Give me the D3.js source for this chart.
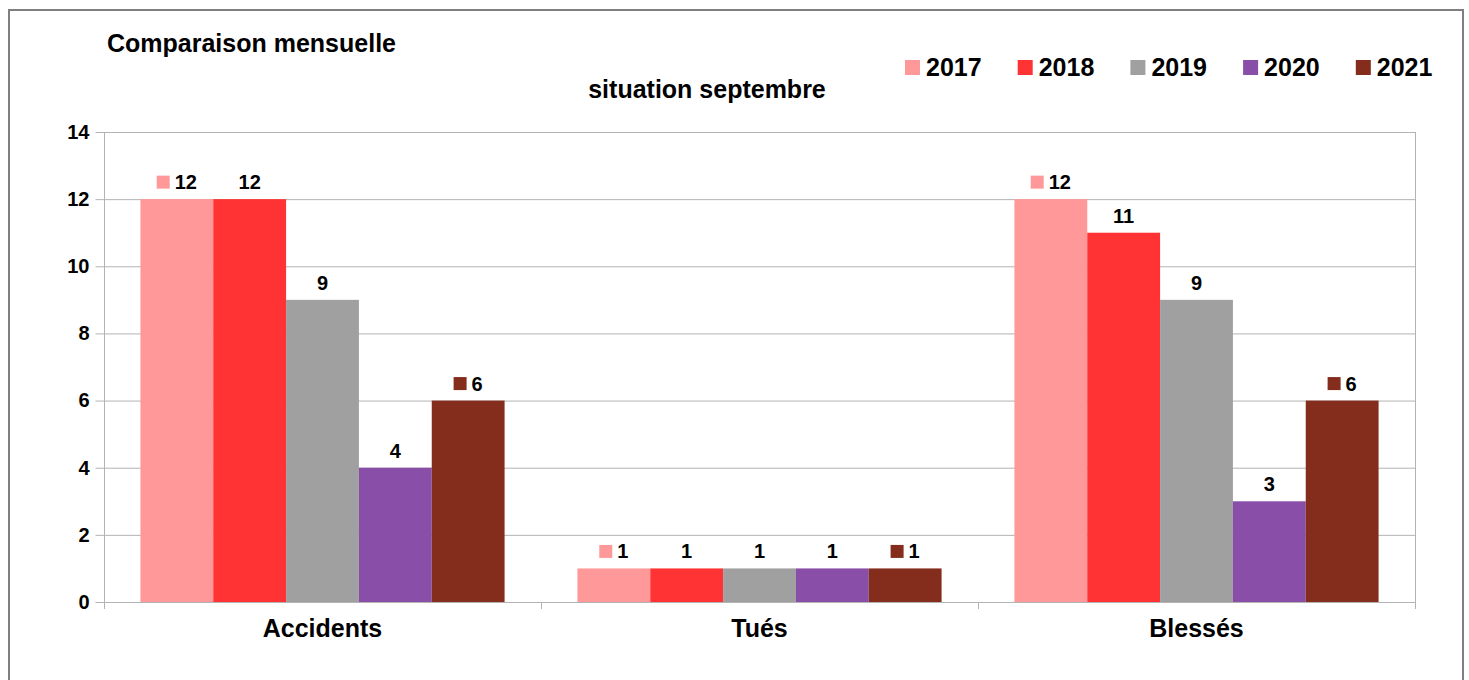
<!DOCTYPE html>
<html lang="fr">
<head>
    <meta charset="UTF-8">
    <title>Comparaison mensuelle - situation septembre</title>
    <script src="https://d3js.org/d3.v7.min.js"></script>
    <style>
        body { margin: 0; background: #fff; }
        svg { display: block; font-family: "Liberation Sans", Arial, sans-serif; font-weight: bold; }
    </style>
</head>
<body>
    <svg width="1469" height="680"></svg>

    <script>
        // Donnees
        const categories = ["Accidents", "Tués", "Blessés"];
        const years = ["2017", "2018", "2019", "2020", "2021"];
        const v2017 = [12, 1, 12];
        const v2018 = [12, 1, 11];
        const v2019 = [9, 1, 9];
        const v2020 = [4, 1, 3];
        const v2021 = [6, 1, 6];
        const yTicks = [0, 2, 4, 6, 8, 10, 12, 14];
        // series dont l'etiquette montre la cle de legende
        const keyedYears = ["2017", "2021"];

        const seriesValues = [v2017, v2018, v2019, v2020, v2021];
        const colors = ["#ff9999", "#ff3333", "#a0a0a0", "#894ea7", "#842d1c"];
        const color = d3.scaleOrdinal().domain(years).range(colors);

        const svg = d3.select("svg");

        // cadre
        svg.append("rect")
            .attr("x", 9).attr("y", 10)
            .attr("width", 1454).attr("height", 700)
            .attr("fill", "#fff")
            .attr("stroke", "#7f7f7f")
            .attr("stroke-width", 2);

        const plot = { left: 104, right: 1415, top: 132, bottom: 602 };

        const x0 = d3.scaleBand()
            .domain(categories)
            .range([plot.left, plot.right])
            .padding(0);

        const x1 = d3.scaleBand()
            .domain(years)
            .range([0, x0.bandwidth()])
            .paddingInner(0)
            .paddingOuter(0.5);

        const y = d3.scaleLinear()
            .domain([0, 14])
            .range([plot.bottom, plot.top]);

        // grille
        svg.append("g")
            .selectAll("line")
            .data(yTicks)
            .join("line")
            .attr("x1", plot.left).attr("x2", plot.right)
            .attr("y1", d => y(d) + 0.5).attr("y2", d => y(d) + 0.5)
            .attr("stroke", "#b3b3b3");

        // axe Y
        const yAxis = svg.append("g")
            .attr("transform", `translate(${plot.left + 0.5},0)`)
            .call(d3.axisLeft(y).tickValues(yTicks).tickSize(9).tickPadding(6).tickSizeOuter(0));
        yAxis.select(".domain").remove();
        yAxis.selectAll("line").attr("stroke", "#b3b3b3");
        yAxis.selectAll("text")
            .style("font-size", "20px")
            .style("font-family", "Liberation Sans, Arial, sans-serif")
            .style("font-weight", "bold")
            .attr("fill", "#000");

        svg.append("line")
            .attr("x1", plot.left + 0.5).attr("x2", plot.left + 0.5)
            .attr("y1", plot.top).attr("y2", plot.bottom + 7)
            .attr("stroke", "#b3b3b3");

        // separateurs de categories
        const bounds = categories.map(c => x0(c)).concat([x0(categories[categories.length - 1]) + x0.bandwidth()]);
        svg.append("g")
            .selectAll("line")
            .data(bounds)
            .join("line")
            .attr("x1", d => Math.round(d) + 0.5).attr("x2", d => Math.round(d) + 0.5)
            .attr("y1", (d, i) => (i === bounds.length - 1 ? plot.top : plot.bottom))
            .attr("y2", plot.bottom + 7)
            .attr("stroke", "#b3b3b3");

        // libelles de categories
        svg.append("g")
            .selectAll("text")
            .data(categories)
            .join("text")
            .attr("x", d => x0(d) + x0.bandwidth() / 2)
            .attr("y", 637)
            .attr("text-anchor", "middle")
            .style("font-size", "25px")
            .text(d => d);

        // barres
        const rows = [];
        years.forEach((yr, si) => {
            categories.forEach((c, ci) => {
                rows.push({ year: yr, cat: c, value: seriesValues[si][ci] });
            });
        });

        svg.append("g")
            .selectAll("rect")
            .data(rows)
            .join("rect")
            .attr("x", d => x0(d.cat) + x1(d.year))
            .attr("y", d => y(d.value))
            .attr("width", x1.bandwidth())
            .attr("height", d => y(0) - y(d.value))
            .attr("fill", d => color(d.year));

        // etiquettes de valeur
        const labels = svg.append("g");
        rows.forEach(d => {
            const cx = x0(d.cat) + x1(d.year) + x1.bandwidth() / 2;
            const base = y(d.value) - 10;
            const t = labels.append("text")
                .attr("y", base)
                .style("font-size", "20px")
                .text(d.value);
            if (keyedYears.includes(d.year)) {
                const tw = t.node().getComputedTextLength();
                const left = cx - (18 + tw) / 2;
                labels.append("rect")
                    .attr("x", left).attr("y", base - 13.5)
                    .attr("width", 13).attr("height", 13)
                    .attr("fill", color(d.year));
                t.attr("x", left + 18);
            } else {
                t.attr("x", cx).attr("text-anchor", "middle");
            }
        });

        // titres
        svg.append("text")
            .attr("x", 107).attr("y", 52)
            .style("font-size", "25px")
            .text("Comparaison mensuelle");

        svg.append("text")
            .attr("x", 707).attr("y", 98)
            .attr("text-anchor", "middle")
            .style("font-size", "25px")
            .text("situation septembre");

        // legende
        const legend = svg.append("g")
            .selectAll("g")
            .data(years)
            .join("g")
            .attr("transform", (d, i) => `translate(${905 + i * 112.7},0)`);
        legend.append("rect")
            .attr("x", 0).attr("y", 60)
            .attr("width", 15).attr("height", 15)
            .attr("fill", d => color(d));
        legend.append("text")
            .attr("x", 21).attr("y", 76)
            .style("font-size", "25px")
            .text(d => d);
    </script>
</body>
</html>
